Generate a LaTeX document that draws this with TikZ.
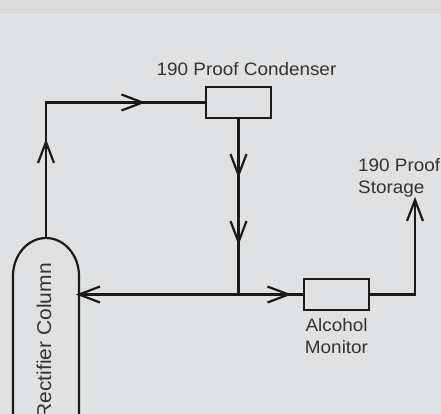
\documentclass[tikz,border=0pt]{standalone}
\usepackage{fontspec}
\setmainfont{Liberation Sans}[FakeStretch=1.05]
\usetikzlibrary{positioning,decorations.markings}
\definecolor{bgtop}{HTML}{DCDCDC}
\definecolor{bgmain}{HTML}{E0E1E2}
\definecolor{bgrule}{HTML}{E9E9E9}
\definecolor{pipeink}{HTML}{1A1A1A}
\definecolor{tagink}{HTML}{333333}
\tikzset{
  pipe/.style={draw=pipeink, line width=2.2pt, line join=miter},
  unitbox/.style={pipe, rectangle, minimum width=65pt, minimum height=31pt, inner sep=0pt},
  tag/.style={text=tagink, inner sep=0pt, font=\fontsize{18}{22.5}\selectfont},
  flowmark/.style={postaction={decorate, decoration={markings,
    mark=at position #1 with {\draw[pipe] (-21pt,8pt) -- (0pt,0pt) -- (-21pt,-8pt);}}}}
}
\begin{document}
\begin{tikzpicture}[x=1pt,y=-1pt]
\useasboundingbox (0,0) rectangle (441,414);
\clip (0,0) rectangle (441,414);
\fill[bgmain] (0,0) rectangle (441,414);
\fill[bgtop] (0,0) rectangle (441,15);
\draw[bgrule, line width=1pt] (0,15) -- (441,15);

\node[unitbox] (condenser) at (238.5,102.5) {};
\node[unitbox] (monitor) at (336.5,294.5) {};
\coordinate (coltop) at (46,238);
\coordinate (colport) at (79,294.5);
\coordinate (riser) at (coltop |- condenser.west);
\coordinate (junction) at (condenser.south |- monitor.west);
\coordinate (storebend) at (415,294.5);
\coordinate (storeend) at (415,200);

\draw[pipe] (13,430) -- (13,276) arc[start angle=180, end angle=0, x radius=33pt, y radius=38pt] -- (79,430);
\node[tag, rotate=90, anchor=base east, font=\fontsize{20}{24}\selectfont] (column) at (51,263) {Rectifier Column};

\draw[pipe, flowmark=96pt, flowmark=232pt] (coltop) -- (riser) -- (condenser.west);
\draw[pipe, flowmark=56pt, flowmark=123pt] (condenser.south) -- (junction);
\draw[pipe, flowmark=1] (junction) -- (colport);
\draw[pipe, flowmark=50pt] (junction) -- (monitor.west);
\draw[pipe, flowmark=1] (monitor.east) -- (storebend) -- (storeend);

\node[tag, anchor=base] (condtag) at (246.5,76) {190 Proof Condenser};
\node[tag, align=center, below=7pt of monitor] (montag) {Alcohol\\Monitor};
\node[tag, align=left, anchor=north west] (storetag) at (358,158) {190 Proof\\Storage};
\end{tikzpicture}
\end{document}
